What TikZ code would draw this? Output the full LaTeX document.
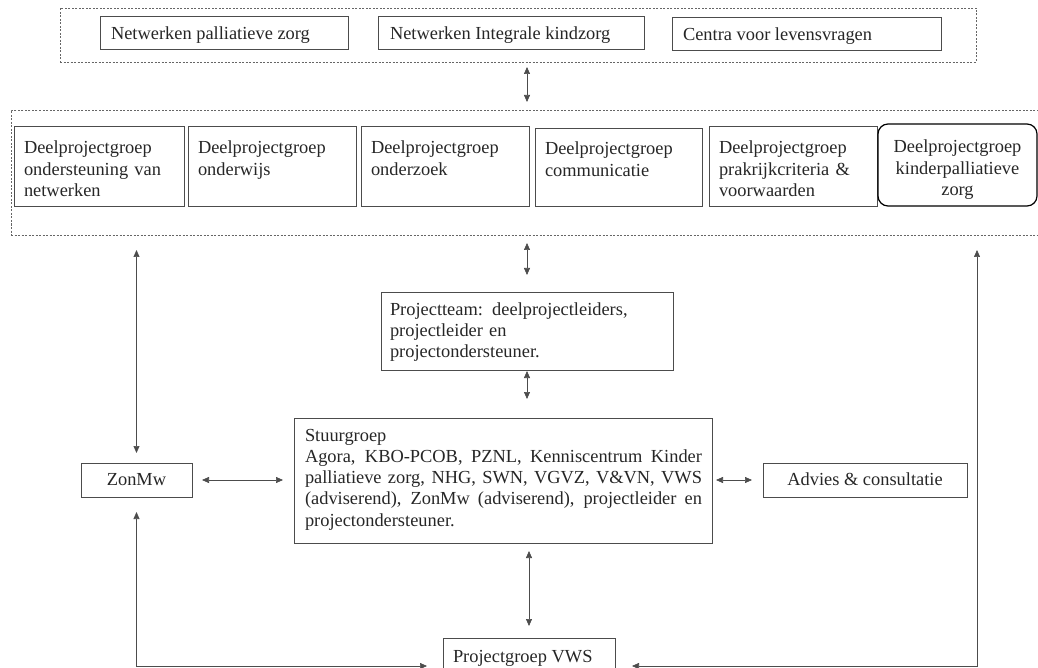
\documentclass[tikz,border=0pt]{standalone}
\usepackage{fontspec}
\setmainfont{Liberation Serif}
\usetikzlibrary{arrows.meta}
\begin{document}
\begin{tikzpicture}[x=1pt,y=-1pt,
  box/.style={draw=black!70, line width=0.8pt, inner sep=0pt, outer sep=0pt},
  rbox/.style={draw=black, line width=1.2pt, rounded corners=10pt, inner sep=0pt, outer sep=0pt},
  dbox/.style={draw=black!60, line width=0.6pt, dash pattern=on 2pt off 1.5pt, inner sep=0pt, outer sep=0pt},
  txt/.style={inner sep=0pt, outer sep=0pt, text=black!85, font=\fontsize{18.4pt}{21.3pt}\selectfont},
  mtxt/.style={txt, text width=#1, align=left},
  conn/.style={draw=black!70, line width=0.7pt, {Triangle[length=7pt,width=6pt]}-{Triangle[length=7pt,width=6pt]}},
]
\useasboundingbox (0,0) rectangle (1038,668);
\clip (0,0) rectangle (1038,668);

% top group
\node[dbox, minimum width=916pt, minimum height=54pt] (top) at (518,35) {};
\node[box, minimum width=248pt, minimum height=33pt] (n1) at (224,32.5) {};
\node[box, minimum width=266pt, minimum height=33pt] (n2) at (511,32.5) {};
\node[box, minimum width=269pt, minimum height=33pt] (n3) at (806.5,33.5) {};
\node[txt, anchor=base west] (n1t) at (111,39.5) {Netwerken palliatieve zorg};
\node[txt, anchor=base west] (n2t) at (390,39.5) {Netwerken Integrale kindzorg};
\node[txt, anchor=base west] (n3t) at (683,40.5) {Centra voor levensvragen};

% deelprojectgroepen
\node[dbox, minimum width=1034pt, minimum height=125pt] (dp) at (528,172.5) {};
\node[box, minimum width=170pt, minimum height=80pt] (d1) at (99,166) {};
\node[box, minimum width=168pt, minimum height=80pt] (d2) at (272,166) {};
\node[box, minimum width=168pt, minimum height=80pt] (d3) at (445,166) {};
\node[box, minimum width=167pt, minimum height=78pt] (d4) at (618.5,167) {};
\node[box, minimum width=168pt, minimum height=80pt] (d5) at (793,166) {};
\node[rbox, minimum width=159pt, minimum height=82pt] (d6) at (957.5,165) {};
\node[mtxt=165pt, anchor=base west] (d1t) at (24,154) {Deelprojectgroep\\ondersteuning van\\netwerken};
\node[mtxt=160pt, anchor=base west] (d2t) at (198,154) {Deelprojectgroep\\onderwijs};
\node[mtxt=160pt, anchor=base west] (d3t) at (371,154) {Deelprojectgroep\\onderzoek};
\node[mtxt=160pt, anchor=base west] (d4t) at (545,155) {Deelprojectgroep\\communicatie};
\node[mtxt=160pt, anchor=base west] (d5t) at (719,154) {Deelprojectgroep\\prakrijkcriteria \&\\voorwaarden};
\node[txt, text width=155pt, align=center, anchor=base] (d6t) at (957.5,153) {Deelprojectgroep\\kinderpalliatieve\\zorg};

% middle boxes
\node[box, minimum width=292pt, minimum height=78pt] (pt) at (527,331) {};
\node[mtxt=280pt, anchor=base west] (ptt) at (390,315) {Projectteam: deelprojectleiders,\\projectleider en\\projectondersteuner.};

\node[box, minimum width=418pt, minimum height=125pt] (st) at (503,480.5) {};
\node[txt, text width=397pt, align=justify, anchor=base west] (stt) at (305,441)
  {\hyphenpenalty=10000 Stuurgroep\\Agora, KBO-PCOB, PZNL, Kenniscentrum Kinder\linebreak palliatieve zorg, NHG, SWN, VGVZ, V\&VN, VWS\linebreak (adviserend), ZonMw (adviserend), projectleider en\linebreak projectondersteuner.};

\node[box, minimum width=111pt, minimum height=34pt] (zm) at (136.5,480) {};
\node[txt, anchor=base] (zmt) at (136.5,485) {ZonMw};
\node[box, minimum width=204pt, minimum height=34pt] (ad) at (865,480) {};
\node[txt, anchor=base] (adt) at (865,485) {Advies \& consultatie};

\node[box, minimum width=172pt, minimum height=56pt] (pg) at (529,666) {};
\node[txt, anchor=base west] (pgt) at (453,662) {Projectgroep VWS};

\coordinate (rt) at (977,235);

% connectors
\draw[conn, shorten <=5pt, shorten >=8pt] (pt.north |- top.south) -- (pt.north |- dp.north);
\draw[conn, shorten <=8pt, shorten >=17pt] (pt.north |- dp.south) -- (pt.north);
\draw[conn, shorten <=1pt, shorten >=19pt] (pt.south) -- (pt.south |- st.north);
\draw[conn, shorten <=8pt, shorten >=12pt] (pg.north |- st.south) -- (pg.north);
\draw[conn, shorten <=15pt, shorten >=10pt] (zm.north |- dp.south) -- (zm.north);
\draw[conn, shorten <=10pt, shorten >=11pt] (zm.east) -- (zm.east -| st.west);
\draw[conn, shorten <=4pt, shorten >=11pt] (st.east |- ad.west) -- (ad.west);
\draw[conn, shorten <=15pt, shorten >=16pt] (zm.south) |- (pg.west);
\draw[conn, shorten <=17pt, shorten >=15pt] (pg.east) -| (rt);
\end{tikzpicture}
\end{document}
